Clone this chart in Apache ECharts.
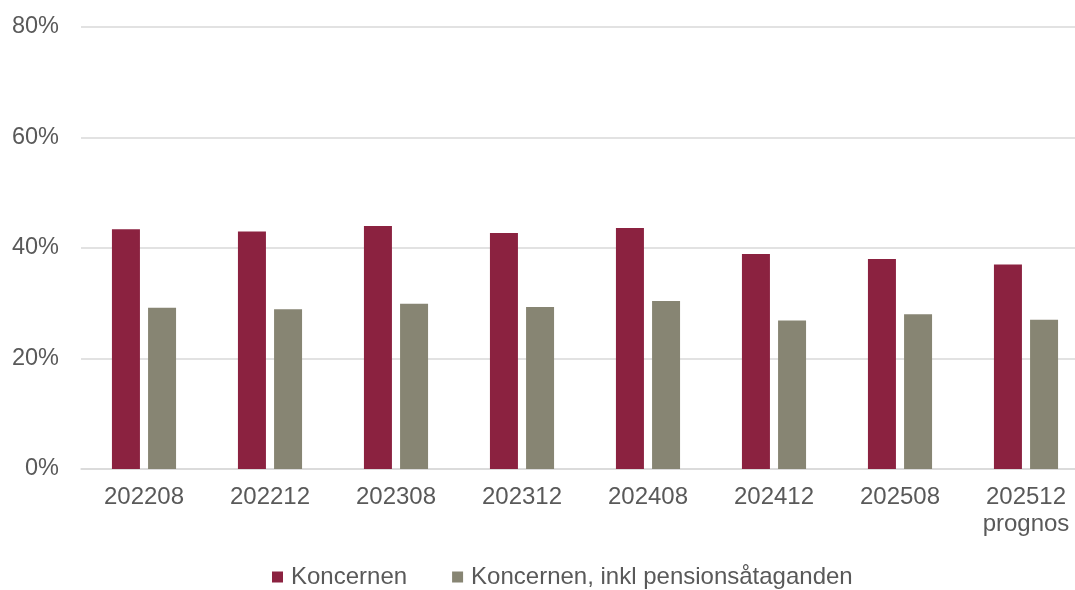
<!DOCTYPE html>
<html>
<head>
<meta charset="utf-8">
<script src="https://cdn.jsdelivr.net/npm/echarts@6/dist/echarts.min.js"></script>
<style>
  html, body { margin: 0; padding: 0; background: #fff; }
  #chart { width: 1075px; height: 590px; }
</style>
</head>
<body>
<div id="chart"></div>
<script>
const categories = ['202208', '202212', '202308', '202312', '202408', '202412', '202508', '202512\nprognos']
const koncernen = [43.4, 43.0, 44.0, 42.7, 43.6, 38.9, 38.0, 37.0]
const inklPension = [29.2, 28.9, 29.9, 29.3, 30.4, 26.9, 28.0, 27.0]
const yTicks = [0, 20, 40, 60, 80]

const textColor = '#595959'
const font = 'Liberation Sans, Arial, sans-serif'

const chart = echarts.init(document.getElementById('chart'))

chart.setOption({
  animation: false,
  textStyle: { fontFamily: font },
  grid: {
    left: 81,
    top: 27,
    width: 1008,
    height: 442,
    outerBoundsMode: 'none'
  },
  legend: {
    top: 560,
    left: 267,
    itemWidth: 11,
    itemHeight: 11,
    itemGap: 45,
    icon: 'rect',
    textStyle: { color: textColor, fontSize: 24, fontFamily: font, padding: [0, 0, 0, 3] },
    data: ['Koncernen', 'Koncernen, inkl pensionsåtaganden']
  },
  xAxis: {
    type: 'category',
    data: categories,
    axisLine: { lineStyle: { color: '#d9d9d9', width: 1.5 } },
    axisTick: { show: false },
    axisLabel: {
      color: textColor,
      fontSize: 24,
      lineHeight: 27,
      margin: 15,
      fontFamily: font
    }
  },
  yAxis: {
    type: 'value',
    min: yTicks[0],
    max: yTicks[yTicks.length - 1],
    interval: 20,
    axisLine: { show: false },
    axisTick: { show: false },
    splitLine: { lineStyle: { color: '#d9d9d9', width: 1.5 } },
    axisLabel: {
      color: textColor,
      fontSize: 23.5,
      margin: 22,
      fontFamily: font,
      formatter: v => v + '%'
    }
  },
  series: [
    {
      name: 'Koncernen',
      type: 'bar',
      data: koncernen,
      barWidth: 28,
      barGap: '29%',
      itemStyle: { color: '#8b2240' }
    },
    {
      name: 'Koncernen, inkl pensionsåtaganden',
      type: 'bar',
      data: inklPension,
      barWidth: 28,
      itemStyle: { color: '#878573' }
    }
  ]
})
</script>
</body>
</html>
